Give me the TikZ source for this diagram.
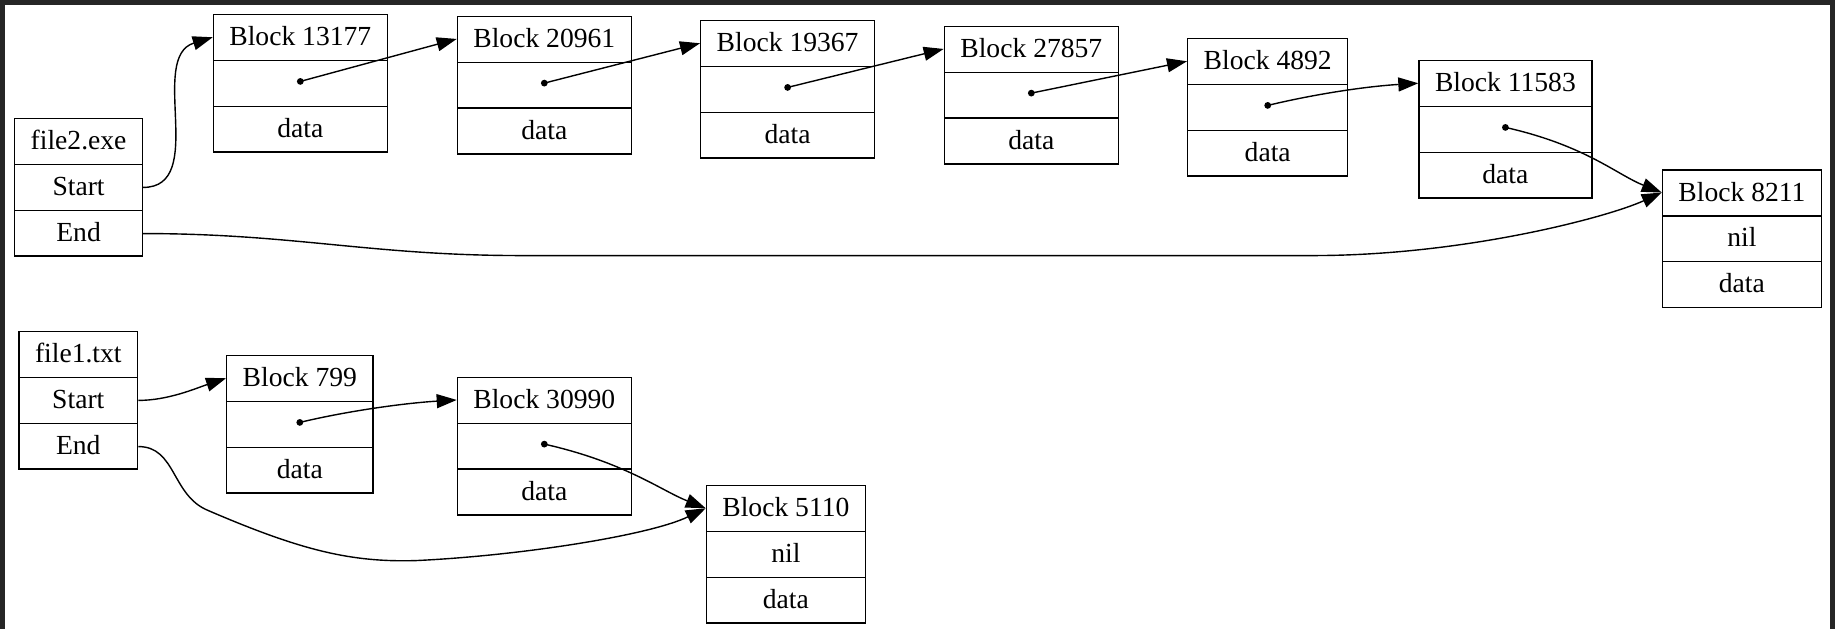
\documentclass[tikz,border=0pt]{standalone}
\usepackage{fontspec}
\setmainfont{Liberation Serif}
\usetikzlibrary{arrows.meta,calc,shapes.multipart}
\definecolor{rahmen}{HTML}{262626}

\begin{document}
\begin{tikzpicture}[x=0.5pt,y=-0.5pt,line width=0.7pt,>={Triangle[length=10pt,width=7pt]},
    record/.style = {draw, rectangle split, rectangle split parts=3, anchor=north west,
                     inner xsep=8pt, inner ysep=3.1pt, font=\fontsize{13.8}{16}\selectfont},
    punkt/.style = {circle, fill=black, inner sep=1.2pt}]
    \def\zeile{\rule[-3.9pt]{0pt}{16pt}}

    % Rahmen + Hintergrund
    \useasboundingbox (0,0) rectangle (1835,629);
    \fill[rahmen] (0,0) rectangle (1835,629);
    \fill[white] (5,5) rectangle (1830,629);

    % Datei file2.exe und ihre Bloecke
    \node[record] (f2) at (14,118) {\zeile file2.exe\nodepart{two}\zeile Start\nodepart{three}\zeile End};
    \node[record] (b13177) at (212.7,14) {\zeile Block 13177\nodepart{two}\zeile\nodepart{three}\zeile data};
    \node[record] (b20961) at (456.7,15.7) {\zeile Block 20961\nodepart{two}\zeile\nodepart{three}\zeile data};
    \node[record] (b19367) at (700,20) {\zeile Block 19367\nodepart{two}\zeile\nodepart{three}\zeile data};
    \node[record] (b27857) at (943.7,25.7) {\zeile Block 27857\nodepart{two}\zeile\nodepart{three}\zeile data};
    \node[record] (b4892) at (1187,38) {\zeile Block 4892\nodepart{two}\zeile\nodepart{three}\zeile data};
    \node[record] (b11583) at (1418.3,60) {\zeile Block 11583\nodepart{two}\zeile\nodepart{three}\zeile data};
    \node[record] (b8211) at (1661.7,169.3) {\zeile Block 8211\nodepart{two}\zeile nil\nodepart{three}\zeile data};

    % Datei file1.txt und ihre Bloecke
    \node[record] (f1) at (18.3,331) {\zeile file1.txt\nodepart{two}\zeile Start\nodepart{three}\zeile End};
    \node[record] (b799) at (226,355) {\zeile Block 799\nodepart{two}\zeile\nodepart{three}\zeile data};
    \node[record] (b30990) at (456.7,376.7) {\zeile Block 30990\nodepart{two}\zeile\nodepart{three}\zeile data};
    \node[record] (b5110) at (705.7,485) {\zeile Block 5110\nodepart{two}\zeile nil\nodepart{three}\zeile data};

    % Zeiger-Punkte in der mittleren Zeile
    \node[punkt] (p13177) at ($(b13177.one split)!.5!(b13177.two split)+(0,-2)$) {};
    \node[punkt] (p20961) at ($(b20961.one split)!.5!(b20961.two split)+(0,-2)$) {};
    \node[punkt] (p19367) at ($(b19367.one split)!.5!(b19367.two split)+(0,-2)$) {};
    \node[punkt] (p27857) at ($(b27857.one split)!.5!(b27857.two split)+(0,-2)$) {};
    \node[punkt] (p4892) at ($(b4892.one split)!.5!(b4892.two split)+(0,-2)$) {};
    \node[punkt] (p11583) at ($(b11583.one split)!.5!(b11583.two split)+(0,-2)$) {};
    \node[punkt] (p799) at ($(b799.one split)!.5!(b799.two split)+(0,-2)$) {};
    \node[punkt] (p30990) at ($(b30990.one split)!.5!(b30990.two split)+(0,-2)$) {};

    % Start/End-Ausgaenge und Eingaenge (Titelzeile links)
    \coordinate (f2start) at ($(f2.one split east)!.5!(f2.two split east)$);
    \coordinate (f2end) at ($(f2.two split east)!.5!(f2.south east)$);
    \coordinate (f1start) at ($(f1.one split east)!.5!(f1.two split east)$);
    \coordinate (f1end) at ($(f1.two split east)!.5!(f1.south east)$);
    \coordinate (in13177) at ($(b13177.north west)!.5!(b13177.one split west)$);
    \coordinate (in20961) at ($(b20961.north west)!.5!(b20961.one split west)$);
    \coordinate (in19367) at ($(b19367.north west)!.5!(b19367.one split west)$);
    \coordinate (in27857) at ($(b27857.north west)!.5!(b27857.one split west)$);
    \coordinate (in4892) at ($(b4892.north west)!.5!(b4892.one split west)$);
    \coordinate (in11583) at ($(b11583.north west)!.5!(b11583.one split west)$);
    \coordinate (in8211) at ($(b8211.north west)!.5!(b8211.one split west)$);
    \coordinate (in799) at ($(b799.north west)!.5!(b799.one split west)$);
    \coordinate (in30990) at ($(b30990.north west)!.5!(b30990.one split west)$);
    \coordinate (in5110) at ($(b5110.north west)!.5!(b5110.one split west)$);

    % obere Kette
    \draw[->] (f2start) .. controls +(65,0) and +(-65,20) .. (in13177);
    \draw[->] (p13177.center) -- (in20961);
    \draw[->] (p20961.center) -- (in19367);
    \draw[->] (p19367.center) -- (in27857);
    \draw[->] (p27857.center) -- (in4892);
    \draw[->] (p4892.center) .. controls +(50,-12) and +(-50,3) .. (in11583);
    \draw[->] (p11583.center) .. controls +(80,18) and +(-45,-18) .. (in8211);
    \draw[->] (f2end) .. controls +(150,0) and +(-150,0) .. ++(378,22) -- ++(792,0)
        .. controls +(150,0) and +(-55,25) .. (in8211);

    % untere Kette
    \draw[->] (f1start) .. controls +(30,0) and +(-30,10) .. (in799);
    \draw[->] (p799.center) .. controls +(50,-12) and +(-50,3) .. (in30990);
    \draw[->] (p30990.center) .. controls +(80,18) and +(-45,-18) .. (in5110);
    \draw[->] (f1end) .. controls +(38,0) and +(-37,-15) .. ++(70,64)
        .. controls +(93,40) and +(-65,2) .. ++(208,50)
        .. controls +(105,-5) and +(-56,27) .. (in5110);

\end{tikzpicture}
\end{document}
